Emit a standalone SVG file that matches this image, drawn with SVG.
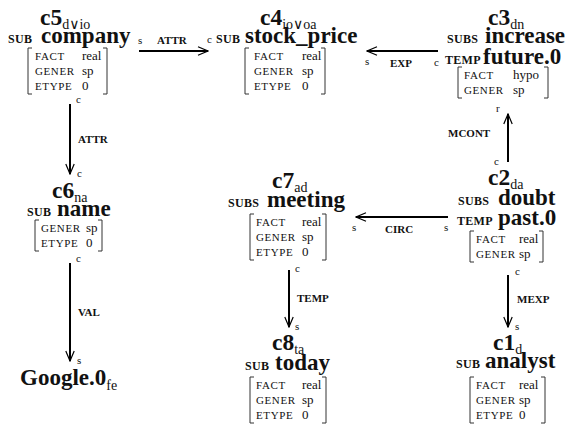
<svg xmlns="http://www.w3.org/2000/svg" width="567" height="427" viewBox="0 0 567 427" font-family="'Liberation Serif', 'Times New Roman', Times, 'DejaVu Serif', serif">
<style>
text{font-family:'Liberation Serif','Times New Roman',Times,'DejaVu Serif',serif;fill:#111}
.cn{font-size:23.5px;font-weight:bold}
.sb{font-size:14px;font-weight:normal}
.rel{font-size:12px;font-weight:bold;letter-spacing:0.3px}
.w{font-size:23px;font-weight:bold}
.k{font-size:11px;letter-spacing:0.6px}
.v{font-size:13px}
.br{fill:none;stroke:#333;stroke-width:1}
.el{font-size:11px;font-weight:bold}
.end{font-size:11px}
.ln{stroke:#000;stroke-width:2;fill:none;marker-end:url(#ah)}
</style>
<defs>
<marker id="ah" markerUnits="userSpaceOnUse" markerWidth="12" markerHeight="10" refX="11" refY="5" orient="auto">
<path d="M1,0.8 L11,5 L1,9.2" fill="none" stroke="#000" stroke-width="1.2"/>
</marker>
</defs>

<g id="c5">
<text class="cn" x="40" y="25">c5<tspan class="sb" dy="4">d∨io</tspan></text>
<text class="rel" x="8" y="43">SUB</text>
<text class="w" x="41" y="43">company</text>
<path class="br" d="M32,48 H28 V94 H32 M103,48 H107 V94 H103"/>
<text class="k" x="35" y="60">FACT</text><text class="v" x="82" y="60">real</text>
<text class="k" x="35" y="75">GENER</text><text class="v" x="82" y="75">sp</text>
<text class="k" x="35" y="90">ETYPE</text><text class="v" x="82" y="90">0</text>
</g>

<g id="c4">
<text class="cn" x="260" y="25">c4<tspan class="sb" dy="4">io∨oa</tspan></text>
<text class="rel" x="216" y="43">SUB</text>
<text class="w" x="245" y="43">stock_price</text>
<path class="br" d="M249,48 H245 V94 H249 M321,48 H325 V94 H321"/>
<text class="k" x="254" y="60">FACT</text><text class="v" x="302" y="60">real</text>
<text class="k" x="254" y="75">GENER</text><text class="v" x="302" y="75">sp</text>
<text class="k" x="254" y="90">ETYPE</text><text class="v" x="302" y="90">0</text>
</g>

<g id="c3">
<text class="cn" x="488" y="25">c3<tspan class="sb" dy="4">dn</tspan></text>
<text class="rel" x="447" y="43">SUBS</text>
<text class="w" x="485" y="43">increase</text>
<text class="rel" x="445" y="64">TEMP</text>
<text class="w" x="483" y="64">future.0</text>
<path class="br" d="M462,67 H458 V98 H462 M544,67 H548 V98 H544"/>
<text class="k" x="464" y="79">FACT</text><text class="v" x="513" y="79">hypo</text>
<text class="k" x="464" y="94">GENER</text><text class="v" x="513" y="94">sp</text>
</g>

<g id="c6">
<text class="cn" x="52" y="198">c6<tspan class="sb" dy="4">na</tspan></text>
<text class="rel" x="27" y="216">SUB</text>
<text class="w" x="57" y="216">name</text>
<path class="br" d="M39,220 H35 V251 H39 M98,220 H102 V251 H98"/>
<text class="k" x="41" y="232">GENER</text><text class="v" x="86" y="232">sp</text>
<text class="k" x="41" y="247">ETYPE</text><text class="v" x="86" y="247">0</text>
</g>

<g id="google">
<text class="w" x="20" y="385">Google.0<tspan class="sb" dy="5">fe</tspan></text>
</g>

<g id="c7">
<text class="cn" x="272" y="188">c7<tspan class="sb" dy="4">ad</tspan></text>
<text class="rel" x="228" y="207">SUBS</text>
<text class="w" x="267" y="207">meeting</text>
<path class="br" d="M254,214 H250 V260 H254 M322,214 H326 V260 H322"/>
<text class="k" x="256" y="226">FACT</text><text class="v" x="302" y="226">real</text>
<text class="k" x="256" y="241">GENER</text><text class="v" x="302" y="241">sp</text>
<text class="k" x="256" y="256">ETYPE</text><text class="v" x="302" y="256">0</text>
</g>

<g id="c2">
<text class="cn" x="488" y="185">c2<tspan class="sb" dy="4">da</tspan></text>
<text class="rel" x="458" y="205">SUBS</text>
<text class="w" x="498" y="205">doubt</text>
<text class="rel" x="457" y="225">TEMP</text>
<text class="w" x="498" y="225">past.0</text>
<path class="br" d="M474,231 H470 V262 H474 M539,231 H543 V262 H539"/>
<text class="k" x="476" y="243">FACT</text><text class="v" x="519" y="243">real</text>
<text class="k" x="476" y="258">GENER</text><text class="v" x="519" y="258">sp</text>
</g>

<g id="c8">
<text class="cn" x="272" y="350">c8<tspan class="sb" dy="4">ta</tspan></text>
<text class="rel" x="245" y="370">SUB</text>
<text class="w" x="275" y="370">today</text>
<path class="br" d="M254,377 H250 V423 H254 M322,377 H326 V423 H322"/>
<text class="k" x="256" y="389">FACT</text><text class="v" x="302" y="389">real</text>
<text class="k" x="256" y="404">GENER</text><text class="v" x="302" y="404">sp</text>
<text class="k" x="256" y="419">ETYPE</text><text class="v" x="302" y="419">0</text>
</g>

<g id="c1">
<text class="cn" x="493" y="350">c1<tspan class="sb" dy="4">d</tspan></text>
<text class="rel" x="456" y="368">SUB</text>
<text class="w" x="485" y="368">analyst</text>
<path class="br" d="M474,377 H470 V423 H474 M541,377 H545 V423 H541"/>
<text class="k" x="476" y="389">FACT</text><text class="v" x="519" y="389">real</text>
<text class="k" x="476" y="404">GENER</text><text class="v" x="519" y="404">sp</text>
<text class="k" x="476" y="419">ETYPE</text><text class="v" x="519" y="419">0</text>
</g>

<g id="connectors">
<line class="ln" x1="139" y1="51" x2="208" y2="51"/>
<text class="end" x="138" y="44">s</text><text class="el" x="157" y="44">ATTR</text><text class="end" x="207" y="43">c</text>

<line class="ln" x1="438" y1="51" x2="367" y2="51"/>
<text class="end" x="365" y="65">s</text><text class="el" x="390" y="67">EXP</text><text class="end" x="434" y="66">c</text>

<line class="ln" x1="70" y1="104" x2="70" y2="174"/>
<text class="end" x="76" y="103">c</text><text class="el" x="78" y="143">ATTR</text><text class="end" x="77" y="177">c</text>

<line class="ln" x1="70" y1="263" x2="70" y2="361"/>
<text class="end" x="76" y="262">c</text><text class="el" x="78" y="316">VAL</text><text class="end" x="77" y="364">s</text>

<line class="ln" x1="508" y1="162" x2="508" y2="114"/>
<text class="end" x="496" y="112">r</text><text class="el" x="448" y="137">MCONT</text><text class="end" x="494" y="165">c</text>

<line class="ln" x1="448" y1="217" x2="356" y2="217"/>
<text class="end" x="352" y="231">s</text><text class="el" x="385" y="233">CIRC</text><text class="end" x="444" y="231">s</text>

<line class="ln" x1="289" y1="270" x2="289" y2="327"/>
<text class="end" x="295" y="272">c</text><text class="el" x="297" y="302">TEMP</text><text class="end" x="295" y="330">s</text>

<line class="ln" x1="508" y1="275" x2="508" y2="327"/>
<text class="end" x="515" y="275">c</text><text class="el" x="517" y="303">MEXP</text><text class="end" x="515" y="330">s</text>
</g>
</svg>
